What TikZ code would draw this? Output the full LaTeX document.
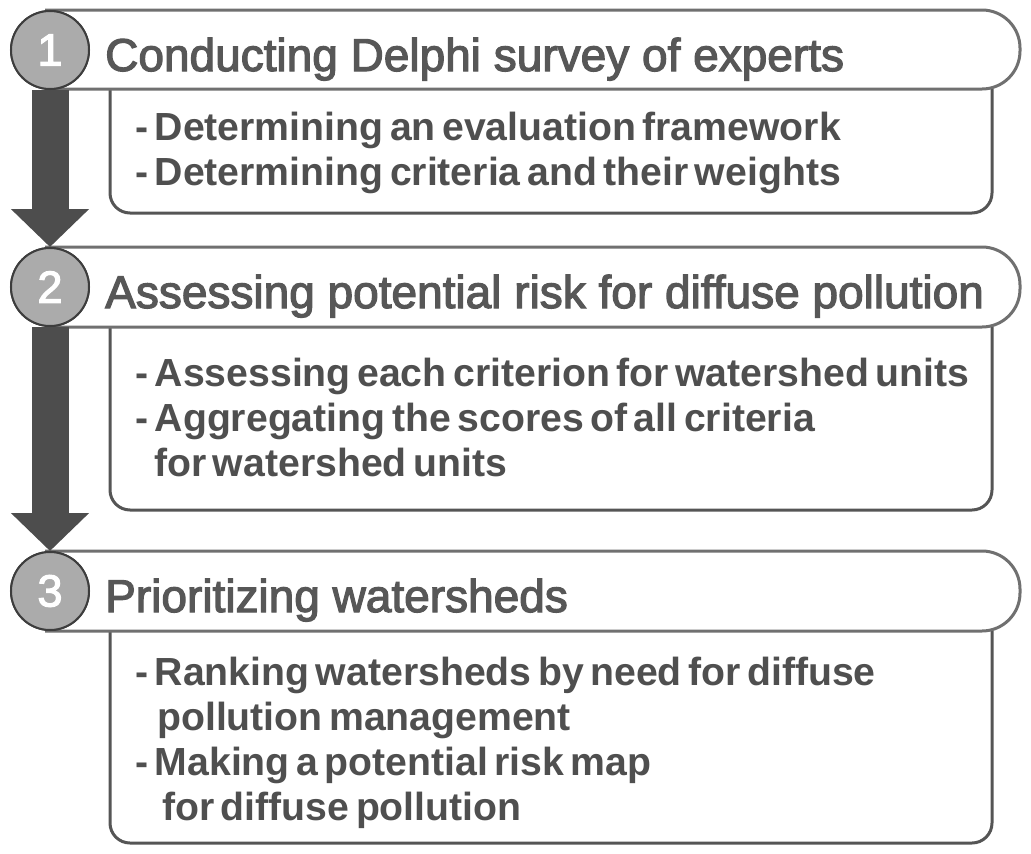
\documentclass[tikz,border=0pt]{standalone}
\usepackage{fontspec}
\setmainfont{Liberation Sans}
\newfontfamily\hfont[FakeBold=2.6]{Liberation Sans}
\newfontfamily\nfont[FakeBold=2.6]{Liberation Sans}
\newfontfamily\bfont[WordSpace=0.6]{Liberation Sans Bold}
\usetikzlibrary{arrows.meta}
\definecolor{titlegray}{HTML}{575757}
\definecolor{bodygray}{HTML}{4F4F4F}
\definecolor{hdrline}{HTML}{707070}
\definecolor{boxline}{HTML}{555555}
\definecolor{circfill}{HTML}{ABABAB}
\definecolor{circline}{HTML}{3D3D3D}
\definecolor{arrowgray}{HTML}{4D4D4D}
\tikzset{
  hdrshape/.style={draw=hdrline, fill=white, line width=3pt, rounded corners=38pt},
  bodyshape/.style={draw=boxline, line width=3pt, rounded corners=20pt},
  numcirc/.style={circle, draw=circline, fill=circfill, line width=2pt, minimum size=78pt, inner sep=0pt,
    text=white, font=\nfont\fontsize{45}{45}\selectfont},
  titletext/.style={anchor=base west, inner sep=0pt, text=titlegray, font=\hfont\fontsize{46}{46}\selectfont},
  bodytext/.style={anchor=base west, inner sep=0pt, align=left, text=bodygray, font=\bfont\fontsize{39.2}{44.7}\selectfont},
  flowarrow/.style={draw=arrowgray, line width=37pt, -{Triangle[length=38pt, width=76pt]}}
}
\begin{document}
\begin{tikzpicture}[x=1pt, y=-1pt]
\useasboundingbox[fill=white] (0,0) rectangle (1031,854);
% content boxes
\draw[bodyshape] (110,89) -- (110,213) -- (992,213) -- (992,89);
\draw[bodyshape] (110,327) -- (110,510) -- (992,510) -- (992,327);
\draw[bodyshape] (110,631) -- (110,843) -- (992,843) -- (992,631);
% headers
\draw[hdrshape] (45,10) -- (1020,10) -- (1020,89) -- (45,89);
\draw[hdrshape] (45,247) -- (1020,247) -- (1020,327) -- (45,327);
\draw[hdrshape] (45,551) -- (1020,551) -- (1020,631) -- (45,631);
% titles
\node[titletext] (t1) at (105,71) {Conducting Delphi survey of experts};
\node[titletext] (t2) at (105,308) {Assessing potential risk for diffuse pollution};
\node[titletext] (t3) at (105,612) {Prioritizing watersheds};
% body texts (anchored at the baseline of the last line)
\node[bodytext] (b1) at (135,185) {- Determining an evaluation framework\\- Determining criteria and their weights};
\node[bodytext] (b2) at (135,476) {- Assessing each criterion for watershed units\\- Aggregating the scores of all criteria\\\hspace*{19pt}for watershed units};
\node[bodytext] (b3) at (135,820) {- Ranking watersheds by need for diffuse\\\hspace*{22pt}pollution management\\- Making a potential risk map\\\hspace*{27pt}for diffuse pollution};
% circles
\coordinate (p1) at (50,50);
\coordinate (p2) at (50,287);
\coordinate (p3) at (50,591);
\node[numcirc] (c1) at (p1) {1};
\node[numcirc] (c2) at (p2) {2};
\node[numcirc] (c3) at (p3) {3};
% arrows
\draw[flowarrow] (c1.south) -- (c2.north);
\draw[flowarrow] (c2.south) -- (c3.north);
% redraw circles on top of the arrows
\node[numcirc] at (c1) {1};
\node[numcirc] at (c2) {2};
\node[numcirc] at (c3) {3};
\end{tikzpicture}
\end{document}
